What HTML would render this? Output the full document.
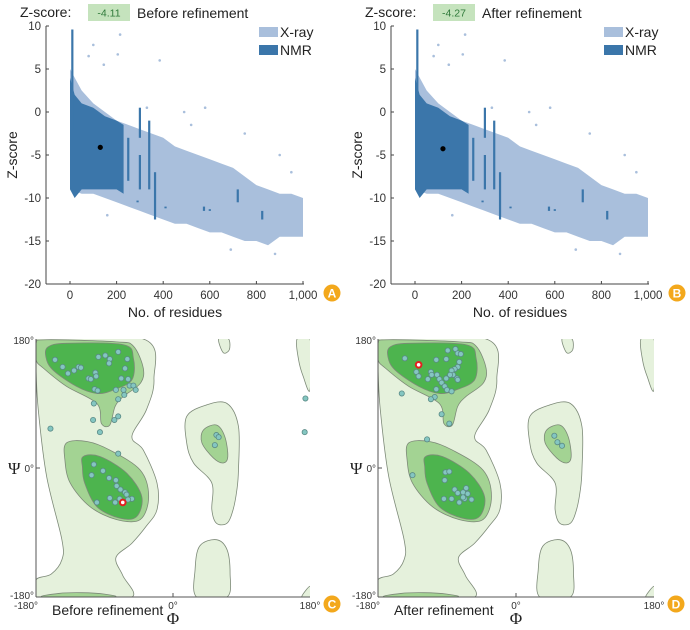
<!DOCTYPE html>
<html><head><meta charset="utf-8"><style>
body{margin:0;background:#fff;}
svg{display:block;font-family:"Liberation Sans",sans-serif;}
</style></head><body>
<svg id="fig" width="690" height="630" viewBox="0 0 690 630"></svg>
<script>
// ---- Z-score scatter data ----
const resBins   = [0,50,100,150,200,250,300,350,400,450,500,550,600,650,700,750,800,850,900,950,1000];
const xrayUpper = [5,2.5,1,0,-1,-1.5,-2,-2.5,-3,-4,-4.5,-5,-5.5,-6,-6.5,-7.5,-8.5,-9,-9.5,-9.5,-10];
const xrayLower = [-9,-9.5,-9.5,-10,-10.5,-11,-11.5,-12,-12.5,-13,-13,-13.5,-14,-14,-14.5,-15,-15,-15.5,-14.5,-14.5,-14.5];
const nmrBins   = [0,20,50,100,150,200,230];
const nmrUpper  = [4,2,1,0.5,-0.5,-1,-1.5];
const nmrLower  = [-9,-10,-9,-9,-9,-9,-9.5];
const nmrStreakX  = [10,250,300,300,340,365,720,825,575,290,410,600];
const nmrStreakY1 = [9.6,-3,0.5,-5,-1,-7,-9,-11.5,-11,-10.3,-11,-11.3];
const nmrStreakY2 = [-2,-8,-3,-9,-9,-12.5,-10.5,-12.5,-11.5,-10.5,-11.2,-11.5];
const xrayOutX = [215,100,80,205,385,145,580,750,900,950,690,880,160,490,330,520];
const xrayOutY = [9,7.8,6.5,6.7,6,5.5,0.5,-2.5,-5,-7,-16,-16.5,-12,0,0.5,-1.5];
const zTicks = [10,5,0,-5,-10,-15,-20];
const resTicks = [0,200,400,600,800,1000];
const resTickLabels = ["0","200","400","600","800","1,000"];
const queryRes = [130,120];
const queryZ = [-4.11,-4.27];
// ---- Ramachandran data ----
const phiC = [-155,-145,-138,-130,-124,-121,-111,-108,-102,-101,-103,-99,-98,-89,-83,-84,-72,-60,-63,-68,-59,-57,-52,-49,-75,-65,-64,-72,-104,-105,-77,-72,-96,-161,-72,-104,-107,-92,-84,-75,-74,-69,-63,-61,-54,-59,-70,-76,-83,-100,57,60,55,174,173];
const psiC = [151,141,132,136,141,140,125,124,133,128,110,108,155,157,152,146,162,152,139,125,124,115,115,109,109,109,102,96,90,67,67,72,50,55,20,5,-10,-4,-14,-17,-25,-30,-34,-37,-43,-44,-43,-48,-42,-48,46,43,32,97,50];
const phiD = [-145,-130,-127,-111,-110,-115,-104,-91,-89,-79,-76,-72,-74,-76,-80,-84,-82,-77,-76,-86,-103,-100,-97,-91,-93,-90,-84,-104,-106,-111,-149,-97,-87,-116,-135,-92,-87,-93,-80,-76,-69,-65,-63,-58,-67,-74,-84,-94,-69,50,54,60];
const psiD = [153,134,128,134,130,124,151,152,164,166,160,159,148,141,138,136,130,125,123,130,130,124,119,125,114,109,107,110,99,96,104,75,62,40,-10,-6,-5,-17,-30,-35,-34,-28,-36,-44,-43,-48,-43,-43,-41,45,36,31];
const redPhi = [-66,-127];
const redPsi = [-48,144];

const NS="http://www.w3.org/2000/svg";
const fig=document.getElementById('fig');
function mk(tag,attrs,parent){const e=document.createElementNS(NS,tag);for(const k in attrs)e.setAttribute(k,attrs[k]);(parent||fig).appendChild(e);return e;}
function txt(s,attrs,parent){const e=mk('text',attrs,parent);e.textContent=s;return e;}

function zPanel(off,idx,title,letter){
  const g=mk('g',{});
  
  
  const X=v=>off+70+v*0.233, Y=v=>26+(10-v)*8.6;
  const t1=txt('Z-score:',{x:off+20,y:17,'font-size':14,fill:'#222'},g);
  
  const bx=mk('rect',{x:off+88,y:4,width:42,height:17,fill:'#c5e3bd'},g);
  
  txt(queryZ[idx].toFixed(2),{x:off+109,y:16.5,'font-size':10.5,fill:'#2f7a3a','text-anchor':'middle'},g);
  const t2=txt(title,{x:off+137,y:18,'font-size':14,fill:'#222'},g);
  
  let p=resBins.map((r,i)=>X(r)+','+Y(xrayUpper[i])).join(' ')+' '+resBins.slice().reverse().map((r,i)=>X(r)+','+Y(xrayLower[resBins.length-1-i])).join(' ');
  const xp=mk('polygon',{points:p,fill:'#a9bfdc'},g);
  
  xrayOutX.forEach((r,i)=>{const c=mk('circle',{cx:X(r),cy:Y(xrayOutY[i]),r:1.3,fill:'#a9bfdc'},g);
    });
  p=nmrBins.map((r,i)=>X(r)+','+Y(nmrUpper[i])).join(' ')+' '+nmrBins.slice().reverse().map((r,i)=>X(r)+','+Y(nmrLower[nmrBins.length-1-i])).join(' ');
  const np=mk('polygon',{points:p,fill:'#3b76aa'},g);
  
  nmrStreakX.forEach((r,i)=>{const l=mk('line',{x1:X(r),x2:X(r),y1:Y(nmrStreakY1[i]),y2:Y(nmrStreakY2[i]),stroke:'#3b76aa','stroke-width':2.2},g);
    });
  const q=mk('circle',{cx:X(queryRes[idx]),cy:Y(queryZ[idx]),r:2.6,fill:'#000'},g);
  
  mk('line',{x1:off+46,x2:off+46,y1:26,y2:284,stroke:'#444','stroke-width':1},g);
  mk('line',{x1:off+46,x2:off+304,y1:284,y2:284,stroke:'#444','stroke-width':1},g);
  zTicks.forEach(v=>{mk('line',{x1:off+46,x2:off+49,y1:Y(v),y2:Y(v),stroke:'#444'},g);
    const t=txt(String(v),{x:off+41,y:Y(v)+4,'font-size':11.5,fill:'#333','text-anchor':'end'},g);
    });
  resTicks.forEach((v,i)=>{mk('line',{x1:X(v),x2:X(v),y1:284,y2:281,stroke:'#444'},g);
    const t=txt(resTickLabels[i],{x:X(v),y:299,'font-size':11.5,fill:'#333','text-anchor':'middle'},g);
    });
  const yt=txt('Z-score',{x:0,y:0,'font-size':14,fill:'#222','text-anchor':'middle',transform:`translate(${off+17},155) rotate(-90)`},g);
  
  const xt=txt('No. of residues',{x:off+175,y:317,'font-size':14,fill:'#222','text-anchor':'middle'},g);
  
  const l1=mk('rect',{x:off+259,y:27,width:19,height:10,fill:'#a9bfdc'},g);
  
  txt('X-ray',{x:off+280,y:37,'font-size':14,fill:'#222'},g);
  const l2=mk('rect',{x:off+259,y:45,width:19,height:10,fill:'#3b76aa'},g);
  
  txt('NMR',{x:off+280,y:55,'font-size':14,fill:'#222'},g);
  badge(off+332,293,letter);
}
function badge(cx,cy,letter){
  const c=mk('circle',{cx:cx,cy:cy,r:8.5,fill:'#f3a81c'});
  
  txt(letter,{x:cx,y:cy+4.5,'font-size':12,'font-weight':'bold',fill:'#fff','text-anchor':'middle'});
}
zPanel(0,0,'Before refinement','A');
zPanel(345,1,'After refinement','B');

const LIGHT='#e5f1dc',MED='#a3d393',DARK='#4db44e',EDGE='#7d8a78';
const contours=[
 [LIGHT,[[-180,180],[-39,180],[-25,124],[-35,81],[-54,44],[-39,25],[-21,-21],[-21,-58],[-35,-81],[-54,-105],[-75,-125],[-66,-150],[-54,-180],[-120,-180],[-180,-180],[-180,-156],[-160,-148],[-146,-128],[-146,-100],[-166,-12],[-177,81],[-180,140]]],
 [MED,[[-170,-180],[-150,-175],[-120,-174],[-90,-176],[-80,-180]]],
 [LIGHT,[[18,72],[44,88],[71,90],[86,58],[86,-3],[84,-30],[79,-58],[71,-77],[57,-77],[51,-58],[51,-21],[27,7],[18,35]]],
 [LIGHT,[[35,-109],[57,-100],[71,-114],[75,-147],[71,-180],[31,-180],[29,-142]]],
 [LIGHT,[[60,180],[73,180],[74,165],[66,161]]],
 [LIGHT,[[163,180],[180,180],[180,109],[171,128],[165,151]]],
 [LIGHT,[[169,-180],[180,-180],[180,-165]]],
 [MED,[[-180,174],[-166,179],[-74,176],[-52,170],[-39,139],[-43,118],[-65,100],[-76,86],[-83,60],[-94,62],[-100,90],[-140,114],[-170,139],[-180,151]]],
 [DARK,[[-164,169],[-140,174],[-65,172],[-52,153],[-54,123],[-78,109],[-100,104],[-127,114],[-158,137],[-167,155]]],
 [MED,[[-140,35],[-113,37],[-83,25],[-43,-3],[-32,-40],[-43,-72],[-74,-72],[-109,-54],[-135,-21],[-142,11]]],
 [DARK,[[-118,16],[-96,16],[-61,-7],[-41,-40],[-48,-68],[-70,-70],[-100,-54],[-116,-21],[-119,1]]],
 [MED,[[40,53],[57,60],[68,44],[72,16],[66,7],[53,14],[38,35]]]
];
function smooth(pts){
  let d='';const n=pts.length;
  for(let i=0;i<n;i++){const p0=pts[(i-1+n)%n],p1=pts[i],p2=pts[(i+1)%n],p3=pts[(i+2)%n];
    if(i===0)d+='M'+p1[0]+','+p1[1];
    const c1=[p1[0]+(p2[0]-p0[0])/6,p1[1]+(p2[1]-p0[1])/6],c2=[p2[0]-(p3[0]-p1[0])/6,p2[1]-(p3[1]-p1[1])/6];
    d+=`C${c1[0]},${c1[1]} ${c2[0]},${c2[1]} ${p2[0]},${p2[1]}`;}
  return d+'Z';
}
function rama(x0,w,phis,psis,ri,label,letter){
  const y0=339,h=258;
  const PX=v=>x0+(v+180)*w/360, PY=v=>y0+(180-v)*h/360;
  const g=mk('g',{});
  
  
  const clip=mk('clipPath',{id:'clip'+letter},g);
  mk('rect',{x:x0,y:y0,width:w,height:h},clip);
  const cg=mk('g',{'clip-path':`url(#clip${letter})`},g);
  const tg=mk('g',{transform:`translate(${x0+w/2},${y0+h/2}) scale(${w/360},${-h/360})`},cg);
  contours.forEach(c=>{const pth=mk('path',{d:smooth(c[1]),fill:c[0],stroke:EDGE,'stroke-width':0.8,'vector-effect':'non-scaling-stroke'},tg);
    });
  mk('line',{x1:x0,x2:x0,y1:y0,y2:y0+h,stroke:'#555','stroke-width':1},g);
  mk('line',{x1:x0,x2:x0+w,y1:y0+h,y2:y0+h,stroke:'#555','stroke-width':1},g);
  mk('line',{x1:PX(0),x2:PX(0),y1:y0+h,y2:y0+h-4,stroke:'#555'},g);
  mk('line',{x1:x0,x2:x0+4,y1:PY(0),y2:PY(0),stroke:'#555'},g);
  phis.forEach((p,i)=>{const c=mk('circle',{cx:PX(p),cy:PY(psis[i]),r:2.6,fill:'#84c6c1',stroke:'#5a8a86','stroke-width':0.8},g);
    });
  const r=mk('circle',{cx:PX(redPhi[ri]),cy:PY(redPsi[ri]),r:2.8,fill:'#fff',stroke:'#e32020','stroke-width':2},g);
  
  const s={'font-size':10,fill:'#333','text-anchor':'end'};
  txt('180°',{...s,x:x0-2,y:y0+5},g);
  txt('0°',{...s,x:x0-2,y:PY(0)+4},g);
  txt('-180°',{...s,x:x0-2,y:y0+h+2},g);
  const ps=txt('Ψ',{x:x0-28,y:PY(0)+6,'font-size':17,fill:'#222','font-family':'Liberation Serif,serif'},g);
  
  txt('-180°',{x:x0+2,y:y0+h+12,'font-size':10,fill:'#333','text-anchor':'end'},g);
  txt('0°',{x:PX(0),y:y0+h+12,'font-size':10,fill:'#333','text-anchor':'middle'},g);
  txt('180°',{x:x0+w,y:y0+h+12,'font-size':10,fill:'#333','text-anchor':'middle'},g);
  const ph=txt('Φ',{x:PX(0),y:y0+h+27,'font-size':17,fill:'#222','text-anchor':'middle','font-family':'Liberation Serif,serif'},g);
  
  const lb=txt(label,{x:x0+16,y:y0+h+18,'font-size':14,fill:'#222'},g);
  
  badge(x0+w+22,604,letter);
}
rama(36,274,phiC,psiC,0,'Before refinement','C');
rama(378,276,phiD,psiD,1,'After refinement','D');
</script>
</body></html>
